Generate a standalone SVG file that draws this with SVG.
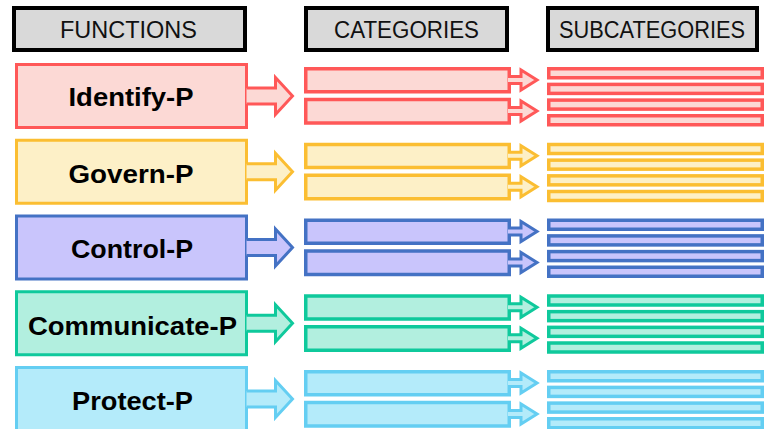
<svg xmlns="http://www.w3.org/2000/svg" width="765" height="429" viewBox="0 0 765 429">
  <defs>
    <style>
      .hdr { fill: #d9d9d9; stroke: #000000; stroke-width: 4; }
      .hdr-text { font-family: "Liberation Sans", Arial, sans-serif; font-size: 23px; fill: #111111; text-anchor: middle; }
      .fn { stroke-width: 3; }
      .fn-text { font-family: "Liberation Sans", Arial, sans-serif; font-weight: bold; font-size: 26px; fill: #000000; text-anchor: middle; }
      .cat, .sub { stroke-width: 3.5; }
      .arr { stroke-width: 3; stroke-linejoin: miter; }
      .red { fill: #fcd9d5; stroke: #ff5858; }
      .yellow { fill: #fdf0c7; stroke: #fbbe32; }
      .blue { fill: #c9c5fc; stroke: #4472c4; }
      .teal { fill: #b2efdf; stroke: #0fc99c; }
      .sky { fill: #b4ebfa; stroke: #64cef2; }
    </style>
    <!-- shared shapes, positioned per row -->
    <rect id="fnBox" x="16.5" y="1.5" width="230" height="63"/>
    <rect id="catBox1" x="305.75" y="5.75" width="203.5" height="23"/>
    <rect id="catBox2" x="305.75" y="36.5" width="203.5" height="23.5"/>
    <rect id="subBar" x="548.75" y="0" width="213.5" height="9"/>
    <path id="bigArrow" d="M246.5,25 H275.5 V14.5 L292.5,33 L275.5,51.5 V41 H246.5"/>
    <path id="smallArrow1" d="M508,13.5 H521 V7 L537,17 L521,27 V20.5 H508"/>
    <path id="smallArrow2" d="M508,44.5 H521 V38 L537,48 L521,58 V51.5 H508"/>
  </defs>

  <!-- column headers -->
  <g id="hdr-functions">
    <rect class="hdr" x="14" y="8" width="231" height="42"/>
    <text class="hdr-text" x="128.5" y="37.5" textLength="137" lengthAdjust="spacingAndGlyphs">FUNCTIONS</text>
  </g>
  <g id="hdr-categories">
    <rect class="hdr" x="306" y="8" width="201" height="42"/>
    <text class="hdr-text" x="406.5" y="37.5" textLength="145" lengthAdjust="spacingAndGlyphs">CATEGORIES</text>
  </g>
  <g id="hdr-subcategories">
    <rect class="hdr" x="548" y="8" width="209" height="42"/>
    <text class="hdr-text" x="652" y="37.5" textLength="186" lengthAdjust="spacingAndGlyphs">SUBCATEGORIES</text>
  </g>

  <!-- function nodes -->
  <g id="fn-identify" transform="translate(0,63)">
    <use href="#fnBox" class="fn red"/>
    <text class="fn-text" x="131" y="43" textLength="125" lengthAdjust="spacingAndGlyphs">Identify-P</text>
  </g>
  <g id="fn-govern" transform="translate(0,138.75)">
    <use href="#fnBox" class="fn yellow"/>
    <text class="fn-text" x="131" y="44" textLength="125" lengthAdjust="spacingAndGlyphs">Govern-P</text>
  </g>
  <g id="fn-control" transform="translate(0,214.5)">
    <use href="#fnBox" class="fn blue"/>
    <text class="fn-text" x="132" y="43.5" textLength="122" lengthAdjust="spacingAndGlyphs">Control-P</text>
  </g>
  <g id="fn-communicate" transform="translate(0,290.25)">
    <use href="#fnBox" class="fn teal"/>
    <text class="fn-text" x="132.5" y="45" textLength="209" lengthAdjust="spacingAndGlyphs">Communicate-P</text>
  </g>
  <g id="fn-protect" transform="translate(0,366)">
    <use href="#fnBox" class="fn sky"/>
    <text class="fn-text" x="132.5" y="44" textLength="121" lengthAdjust="spacingAndGlyphs">Protect-P</text>
  </g>

  <!-- category nodes -->
  <g id="cat-identify" transform="translate(0,63)">
    <use id="cat-identify-1" href="#catBox1" class="cat red"/>
    <use id="cat-identify-2" href="#catBox2" class="cat red"/>
  </g>
  <g id="cat-govern" transform="translate(0,138.75)">
    <use id="cat-govern-1" href="#catBox1" class="cat yellow"/>
    <use id="cat-govern-2" href="#catBox2" class="cat yellow"/>
  </g>
  <g id="cat-control" transform="translate(0,214.5)">
    <use id="cat-control-1" href="#catBox1" class="cat blue"/>
    <use id="cat-control-2" href="#catBox2" class="cat blue"/>
  </g>
  <g id="cat-communicate" transform="translate(0,290.25)">
    <use id="cat-communicate-1" href="#catBox1" class="cat teal"/>
    <use id="cat-communicate-2" href="#catBox2" class="cat teal"/>
  </g>
  <g id="cat-protect" transform="translate(0,366)">
    <use id="cat-protect-1" href="#catBox1" class="cat sky"/>
    <use id="cat-protect-2" href="#catBox2" class="cat sky"/>
  </g>

  <!-- subcategory nodes -->
  <g id="sub-identify" transform="translate(0,63)">
    <use href="#subBar" class="sub red" y="5.75"/>
    <use href="#subBar" class="sub red" y="21.4"/>
    <use href="#subBar" class="sub red" y="37.1"/>
    <use href="#subBar" class="sub red" y="52.75"/>
  </g>
  <g id="sub-govern" transform="translate(0,138.75)">
    <use href="#subBar" class="sub yellow" y="5.75"/>
    <use href="#subBar" class="sub yellow" y="21.4"/>
    <use href="#subBar" class="sub yellow" y="37.1"/>
    <use href="#subBar" class="sub yellow" y="52.75"/>
  </g>
  <g id="sub-control" transform="translate(0,214.5)">
    <use href="#subBar" class="sub blue" y="5.75"/>
    <use href="#subBar" class="sub blue" y="21.4"/>
    <use href="#subBar" class="sub blue" y="37.1"/>
    <use href="#subBar" class="sub blue" y="52.75"/>
  </g>
  <g id="sub-communicate" transform="translate(0,290.25)">
    <use href="#subBar" class="sub teal" y="5.75"/>
    <use href="#subBar" class="sub teal" y="21.4"/>
    <use href="#subBar" class="sub teal" y="37.1"/>
    <use href="#subBar" class="sub teal" y="52.75"/>
  </g>
  <g id="sub-protect" transform="translate(0,366)">
    <use href="#subBar" class="sub sky" y="5.75"/>
    <use href="#subBar" class="sub sky" y="21.4"/>
    <use href="#subBar" class="sub sky" y="37.1"/>
    <use href="#subBar" class="sub sky" y="52.75"/>
  </g>

  <!-- connectors: block arrows from functions to categories, and categories to subcategories -->
  <g id="connectors">
    <g transform="translate(0,63)">
      <use href="#bigArrow" class="arr red"/>
      <use href="#smallArrow1" class="arr red"/>
      <use href="#smallArrow2" class="arr red"/>
    </g>
    <g transform="translate(0,138.75)">
      <use href="#bigArrow" class="arr yellow"/>
      <use href="#smallArrow1" class="arr yellow"/>
      <use href="#smallArrow2" class="arr yellow"/>
    </g>
    <g transform="translate(0,214.5)">
      <use href="#bigArrow" class="arr blue"/>
      <use href="#smallArrow1" class="arr blue"/>
      <use href="#smallArrow2" class="arr blue"/>
    </g>
    <g transform="translate(0,290.25)">
      <use href="#bigArrow" class="arr teal"/>
      <use href="#smallArrow1" class="arr teal"/>
      <use href="#smallArrow2" class="arr teal"/>
    </g>
    <g transform="translate(0,366)">
      <use href="#bigArrow" class="arr sky"/>
      <use href="#smallArrow1" class="arr sky"/>
      <use href="#smallArrow2" class="arr sky"/>
    </g>
  </g>
</svg>
